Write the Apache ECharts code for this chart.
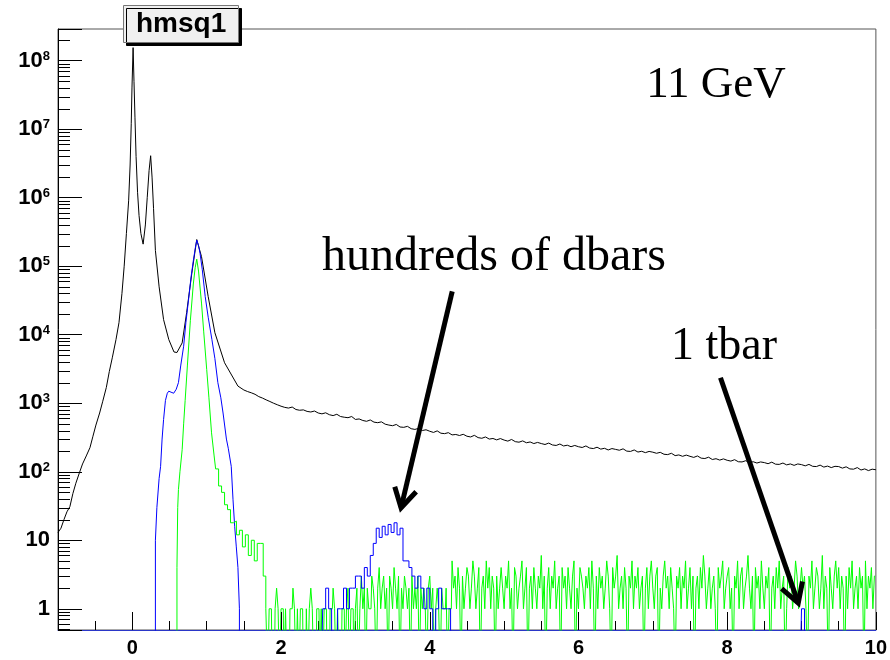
<!DOCTYPE html>
<html>
<head>
<meta charset="UTF-8">
<title>hmsq1</title>
<script src="https://cdn.jsdelivr.net/npm/echarts@6/dist/echarts.min.js"></script>
<style>
html, body { margin: 0; padding: 0; background: #fff; }
#main { width: 890px; height: 660px; }
</style>
</head>
<body>
<div id="main"></div>
<script>
// axis ranges and ticks
var xMin = -1, xMax = 10;
var yMin = 0.49, yMax = 2.9e8;
var xLabelTicks = [0, 2, 4, 6, 8, 10];
var yMinorMant = [2, 3, 4, 5, 6, 7, 8, 9];
var yDecades = [0.1, 1, 10, 100, 1e3, 1e4, 1e5, 1e6, 1e7, 1e8];

// black: all events, [x, counts]
var blackHead = [
    [-1.00, 13], [-0.96, 15], [-0.92, 20], [-0.88, 26], [-0.84, 31], [-0.80, 48], [-0.76, 68],
    [-0.71, 98], [-0.67, 130], [-0.62, 170], [-0.57, 225], [-0.53, 330], [-0.49, 480],
    [-0.44, 720], [-0.40, 1050], [-0.35, 1700], [-0.31, 2900], [-0.27, 4600], [-0.22, 8500],
    [-0.18, 15000], [-0.14, 40000], [-0.11, 100000], [-0.08, 300000], [-0.05, 900000],
    [-0.03, 3000000], [-0.015, 12000000], [-0.005, 40000000], [0.01, 155000000],
    [0.022, 50000000], [0.035, 15000000], [0.05, 4000000], [0.07, 1200000], [0.09, 550000],
    [0.115, 300000], [0.145, 210000], [0.175, 400000], [0.20, 1000000], [0.225, 2500000],
    [0.246, 4100000], [0.265, 2000000], [0.285, 700000], [0.31, 170000], [0.36, 50000],
    [0.42, 16600], [0.49, 8500], [0.56, 5600], [0.60, 5500], [0.67, 7600], [0.73, 21000],
    [0.80, 79000], [0.866, 245000], [0.93, 138000], [1.02, 36000], [1.11, 10700],
    [1.24, 3900], [1.42, 1780]
];
// black tail, bins of 0.05 centred from 1.50 to 10.00
var blackTail = [
    1560, 1480, 1420, 1350, 1250, 1190, 1120, 1060, 1000, 950,
    905, 870, 850, 880, 810, 790, 800, 760, 745, 770,
    720, 700, 725, 680, 660, 690, 640, 625, 615, 640,
    580, 590, 560, 545, 570, 530, 520, 535, 495, 480,
    470, 490, 450, 445, 460, 425, 415, 430, 400, 410,
    390, 375, 395, 365, 360, 372, 345, 350, 338, 352,
    330, 322, 340, 315, 308, 322, 300, 306, 292, 305,
    290, 280, 296, 275, 270, 282, 265, 272, 258, 268,
    258, 250, 262, 246, 242, 254, 238, 244, 232, 242,
    232, 226, 238, 222, 218, 228, 214, 220, 208, 218,
    212, 206, 216, 200, 198, 208, 194, 199, 190, 198,
    193, 186, 192, 180, 178, 186, 172, 176, 168, 175,
    168, 162, 170, 158, 156, 163, 151, 155, 148, 154,
    147, 143, 150, 140, 139, 145, 136, 140, 134, 139,
    136, 131, 138, 129, 128, 134, 126, 130, 124, 130,
    127, 122, 128, 120, 119, 125, 117, 121, 115, 120,
    119, 113, 118, 110, 109, 115, 106, 110, 104, 109,
    107
];

// blue: main peak [x, counts]
var blueHead = [
    [0.31, 0], [0.31, 10], [0.33, 30], [0.36, 80], [0.38, 120], [0.40, 300], [0.42, 580],
    [0.445, 1100], [0.47, 1400], [0.49, 1500], [0.52, 1450], [0.556, 1400], [0.59, 1600],
    [0.62, 2000], [0.65, 3500], [0.69, 6800], [0.72, 15000], [0.755, 32000], [0.79, 70000],
    [0.82, 120000], [0.845, 180000], [0.866, 240000], [0.89, 200000], [0.91, 155000],
    [0.94, 90000], [0.98, 36000], [1.02, 18000], [1.07, 8500], [1.11, 4500], [1.15, 2000],
    [1.19, 1200], [1.22, 720], [1.265, 300], [1.29, 220], [1.31, 210], [1.33, 120],
    [1.354, 39], [1.376, 16], [1.398, 8], [1.42, 4], [1.44, 1], [1.44, 0]
];
// blue dbar bump, bins of 0.04 centred from 2.50 to 4.30
var blueDbar = [
    0, 0, 1, 2, 1, 0, 0, 1, 1, 2,
    1, 2, 2, 3, 3, 2, 4, 3, 6, 9,
    15, 11, 16, 12, 17, 13, 18, 12, 15, 5,
    5, 4, 3, 2, 3, 2, 1, 2, 1, 0,
    1, 2, 1, 1, 1, 0
];
// the single tbar entry
var blueTbar = [[8.98, 0], [9.02, 1], [9.06, 0]];

// green: main peak [x, counts]
var greenHead = [
    [0.60, 0], [0.60, 4], [0.61, 30], [0.62, 55], [0.64, 100], [0.67, 210], [0.69, 500],
    [0.71, 1100], [0.74, 3500], [0.78, 16000], [0.82, 55000], [0.845, 95000], [0.866, 127000],
    [0.89, 85000], [0.93, 29000], [0.96, 11000], [1.00, 3100], [1.03, 1200], [1.065, 370],
    [1.10, 170]
];
// green shoulder, bins of 0.04 centred from 1.10 to 1.78
var greenShoulder = [
    170, 110, 62, 50, 33, 28, 18, 19, 12, 14,
    8, 12, 6, 10, 5, 9, 9, 3
];
// green noise, bins of 0.02 centred from 1.81 to 9.99
var greenNoise = [
    1, 0, 1, 1, 0, 0, 1, 2, 1, 0, 1, 1, 0, 1, 0, 0, 1, 1, 2, 1,
    0, 1, 0, 1, 1, 0, 0, 1, 0, 1, 2, 1, 0, 0, 1, 1, 0, 1, 0, 1,
    1, 0, 0, 1, 1, 2, 1, 0, 1, 0, 0, 1, 1, 0, 1, 2, 0, 1, 1, 0,
    1, 2, 0, 1, 3, 1, 2, 0, 2, 1, 1, 3, 2, 1, 0, 2, 4, 1, 2, 3,
    1, 2, 0, 3, 2, 1, 4, 2, 1, 3, 0, 2, 1, 3, 2, 1, 2, 0, 3, 1,
    2, 1, 3, 0, 2, 1, 2, 1, 0, 2, 3, 1, 2, 0, 1, 2, 1, 0, 2, 1,
    1, 2, 0, 1, 1, 5, 2, 3, 1, 4, 2, 0, 3, 1, 2, 4, 3, 1, 2, 5,
    3, 1, 2, 4, 0, 2, 3, 1, 5, 2, 4, 1, 3, 2, 0, 3, 1, 2, 4, 2,
    1, 3, 2, 5, 1, 2, 0, 4, 3, 1, 2, 3, 5, 1, 2, 4, 0, 2, 3, 1,
    4, 2, 1, 3, 2, 6, 1, 3, 0, 2, 4, 1, 3, 2, 5, 1, 2, 3, 0, 4,
    2, 3, 1, 4, 2, 1, 3, 5, 0, 2, 1, 4, 3, 2, 1, 3, 2, 4, 1, 5,
    2, 0, 3, 1, 4, 2, 3, 1, 2, 5, 3, 1, 0, 4, 2, 3, 6, 1, 2, 3,
    1, 4, 2, 0, 3, 2, 5, 1, 3, 2, 4, 1, 2, 3, 0, 2, 4, 1, 3, 5,
    2, 1, 3, 4, 0, 2, 1, 3, 5, 2, 3, 1, 4, 2, 1, 0, 3, 2, 4, 1,
    3, 2, 5, 1, 2, 4, 1, 3, 0, 2, 3, 1, 4, 2, 6, 3, 1, 2, 4, 1,
    2, 3, 1, 0, 4, 2, 3, 5, 1, 2, 3, 4, 1, 2, 0, 3, 2, 5, 1, 3,
    4, 1, 2, 3, 6, 2, 1, 3, 0, 4, 2, 3, 1, 5, 2, 1, 3, 2, 4, 0,
    2, 3, 1, 4, 2, 5, 1, 2, 3, 0, 1, 4, 2, 3, 1, 2, 5, 3, 1, 2,
    4, 2, 3, 1, 0, 3, 2, 5, 1, 2, 4, 3, 1, 2, 6, 1, 3, 2, 0, 4,
    2, 1, 3, 5, 2, 4, 1, 3, 2, 0, 3, 1, 4, 2, 5, 1, 2, 3, 1, 4,
    2, 3, 0, 5, 1, 3, 2, 4, 1, 3
];

// annotations (data coordinates of the text baseline start, arrow tail and tip)
var annoText = ['11 GeV', 'hundreds of dbars', '1 tbar'];
var annoAt = [[6.912, 2.7e7], [2.551, 7.8e4], [7.245, 4.0e3]];
var annoSize = [45, 48, 46];
var arrowFrom = [[4.302, 42900], [7.91, 2357]];
var arrowTo = [[3.614, 29.8], [8.956, 1.21]];

var FLOOR = 0.1; // empty bins fall below the frame

function pairs(arr) {
    return arr.map(function (p) { return [p[0], p[1] > 0 ? p[1] : FLOOR]; });
}
function bins(lo, w, vals) {
    return vals.map(function (v, i) { return [lo + w * (i + 0.5), v > 0 ? v : FLOOR]; });
}

var blackData = pairs(blackHead).concat(bins(1.475, 0.05, blackTail));
var blueData = pairs(blueHead);
var blueTailData = bins(2.48, 0.04, blueDbar).concat(pairs(blueTbar));
var greenData = pairs(greenHead);
var greenTailData = bins(1.08, 0.04, greenShoulder).concat(bins(1.80, 0.02, greenNoise));

var yMinorTicks = [];
yDecades.forEach(function (d) {
    yMinorMant.forEach(function (m) {
        var v = m * d;
        if (v > yMin && v < yMax) yMinorTicks.push([xMin, v]);
    });
});

function tickRender(dx, dy) {
    return function (params, api) {
        var p = api.coord([api.value(0), api.value(1)]);
        var x = Math.round(p[0]) + (dx === 0 ? 0.5 : 0);
        var y = Math.round(p[1]) + (dy === 0 ? 0.5 : 0);
        return {
            type: 'line',
            shape: { x1: x, y1: y, x2: x + dx, y2: y + dy },
            style: { stroke: '#000', lineWidth: 1 }
        };
    };
}

function histLine(name, data, color, step) {
    return {
        name: name,
        type: 'line',
        data: data,
        step: step || false,
        symbol: 'none',
        showSymbol: false,
        clip: true,
        lineStyle: { color: color, width: 1 },
        itemStyle: { color: color },
        emphasis: { disabled: true },
        silent: true
    };
}

function yLabel(value) {
    var e = Math.log(value) / Math.LN10;
    var r = Math.round(e);
    if (Math.abs(e - r) > 1e-6) return '';
    if (r === 0) return '{b|1}';
    if (r === 1) return '{b|10}';
    return '{b|10}{s|' + r + '}';
}

var chart = echarts.init(document.getElementById('main'));
var option = {
    animation: false,
    backgroundColor: '#fff',
    title: {
        text: 'hmsq1',
        left: 123,
        top: 5,
        padding: [5, 13, 5, 13],
        backgroundColor: '#f0f0f0',
        borderColor: '#777',
        borderWidth: 1,
        shadowColor: '#000',
        shadowBlur: 0,
        shadowOffsetX: 3,
        shadowOffsetY: 3,
        textStyle: {
            fontFamily: 'Liberation Sans',
            fontWeight: 'bold',
            fontSize: 28,
            lineHeight: 28,
            color: '#000'
        }
    },
    grid: {
        left: 58, right: 5, top: 29, bottom: 30,
        show: true,
        borderColor: '#555',
        borderWidth: 1
    },
    xAxis: {
        type: 'value',
        min: xMin,
        max: xMax,
        interval: 1,
        axisLine: { show: true, onZero: false, lineStyle: { color: '#2a36c8', width: 1 } },
        axisTick: { show: true, inside: true, length: 9, lineStyle: { color: '#000' } },
        minorTick: { show: true, splitNumber: 2, length: 9, lineStyle: { color: '#000' } },
        splitLine: { show: false },
        minorSplitLine: { show: false },
        axisLabel: {
            margin: 8,
            color: '#000',
            fontFamily: 'Liberation Sans',
            fontWeight: 'bold',
            fontSize: 20,
            formatter: function (v) { return xLabelTicks.indexOf(v) >= 0 ? String(v) : ''; }
        }
    },
    yAxis: {
        type: 'log',
        logBase: 10,
        min: yMin,
        max: yMax,
        splitNumber: 10,
        axisLine: { show: true, onZero: false, lineStyle: { color: '#000', width: 1 } },
        axisTick: { show: true, inside: true, length: 24, lineStyle: { color: '#000' } },
        splitLine: { show: false },
        axisLabel: {
            margin: 8,
            color: '#000',
            formatter: yLabel,
            rich: {
                b: { fontFamily: 'Liberation Sans', fontWeight: 'bold', fontSize: 22, lineHeight: 22, color: '#000' },
                s: { fontFamily: 'Liberation Sans', fontWeight: 'bold', fontSize: 13, lineHeight: 13, verticalAlign: 'top', color: '#000' }
            }
        }
    },
    series: [
        histLine('all', blackData, '#000000'),
        histLine('dbar', blueData, '#0000ff'),
        histLine('tbar', greenData, '#00ff00'),
        histLine('tbar tail', greenTailData, '#00ff00', 'middle'),
        histLine('dbar tail', blueTailData, '#0000ff', 'middle'),
        {
            type: 'custom',
            renderItem: tickRender(12, 0),
            data: yMinorTicks,
            clip: false,
            silent: true,
            z: 5
        },
        {
            type: 'custom',
            renderItem: tickRender(0, -18),
            data: xLabelTicks.map(function (v) { return [v, yMin]; }),
            clip: false,
            silent: true,
            z: 5
        }
    ]
};
chart.setOption(option);

// arrows and text notes, placed from data coordinates
var graphics = [];
annoText.forEach(function (t, i) {
    var p = chart.convertToPixel({ gridIndex: 0 }, annoAt[i]);
    graphics.push({
        type: 'text',
        x: p[0],
        y: p[1] - annoSize[i] * 0.33,
        z: 100,
        style: {
            text: t,
            fill: '#000',
            font: annoSize[i] + 'px "Liberation Serif"',
            textAlign: 'left',
            textVerticalAlign: 'middle'
        }
    });
});
arrowFrom.forEach(function (a, i) {
    var s = chart.convertToPixel({ gridIndex: 0 }, a);
    var t = chart.convertToPixel({ gridIndex: 0 }, arrowTo[i]);
    var ang = Math.atan2(s[1] - t[1], s[0] - t[0]);
    var len = 22, spread = Math.PI / 6;
    var l = [t[0] + len * Math.cos(ang + spread), t[1] + len * Math.sin(ang + spread)];
    var r = [t[0] + len * Math.cos(ang - spread), t[1] + len * Math.sin(ang - spread)];
    graphics.push({
        type: 'line', z: 100,
        shape: { x1: s[0], y1: s[1], x2: t[0], y2: t[1] },
        style: { stroke: '#000', lineWidth: 5 }
    });
    graphics.push({
        type: 'polyline', z: 100,
        shape: { points: [l, t, r] },
        style: { stroke: '#000', lineWidth: 5, fill: null, lineJoin: 'miter' }
    });
});
chart.setOption({ graphic: graphics });
window.onresize = chart.resize;
</script>
</body>
</html>
